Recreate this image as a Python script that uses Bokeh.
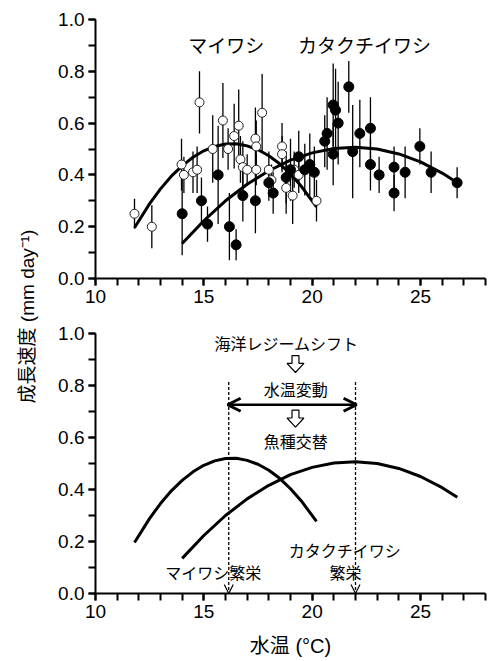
import math
from bokeh.plotting import figure
from bokeh.models import (Range1d, SingleIntervalTicker, PrintfTickFormatter,
                          Arrow, OpenHead, ColumnDataSource)
from bokeh.layouts import row, column
from bokeh.embed import file_html
from bokeh.resources import INLINE
from bokeh.core.properties import value

# ---------------- data ----------------
# マイワシ (open circles): water temperature, growth rate, error half-width
sardine_temp = [11.8, 12.6, 13.97, 14.08, 14.5, 14.69, 14.8, 15.41, 15.88, 16.12,
                16.4, 16.61, 16.69, 16.8, 17.0, 17.38, 17.42, 17.42, 17.69, 18.0,
                18.12, 18.61, 18.61, 18.8, 19.1, 19.17, 19.38, 20.2]
sardine_rate = [0.25, 0.20, 0.44, 0.40, 0.41, 0.42, 0.68, 0.50, 0.61, 0.50,
                0.55, 0.59, 0.46, 0.43, 0.42, 0.54, 0.51, 0.42, 0.64, 0.42,
                0.38, 0.51, 0.48, 0.35, 0.32, 0.42, 0.40, 0.30]
sardine_err = [0.058, 0.083, 0.10, 0.07, 0.08, 0.09, 0.12, 0.13, 0.145, 0.08,
               0.125, 0.14, 0.09, 0.10, 0.06, 0.12, 0.10, 0.06, 0.15, 0.07,
               0.06, 0.09, 0.07, 0.10, 0.11, 0.07, 0.07, 0.08]

# カタクチイワシ (filled circles)
anchovy_temp = [14.0, 14.89, 15.17, 15.66, 16.18, 16.49, 16.8, 17.38, 18.0, 18.2,
                18.8, 19.0, 19.38, 19.66, 19.89, 20.1, 20.58, 20.69, 20.97, 21.08,
                21.2, 20.97, 21.69, 21.87, 22.2, 22.69, 22.69, 23.09, 23.78, 23.78,
                24.29, 24.97, 25.49, 26.69]
anchovy_rate = [0.25, 0.30, 0.21, 0.40, 0.20, 0.13, 0.32, 0.30, 0.37, 0.33,
                0.39, 0.42, 0.47, 0.42, 0.44, 0.41, 0.53, 0.56, 0.67, 0.65,
                0.60, 0.48, 0.74, 0.49, 0.56, 0.58, 0.44, 0.40, 0.43, 0.33,
                0.41, 0.51, 0.41, 0.37]
anchovy_err = [0.16, 0.09, 0.068, 0.19, 0.13, 0.06, 0.10, 0.125, 0.07, 0.08,
               0.10, 0.12, 0.10, 0.10, 0.12, 0.10, 0.10, 0.14, 0.16, 0.16,
               0.16, 0.12, 0.10, 0.18, 0.13, 0.12, 0.10, 0.07, 0.08, 0.07,
               0.10, 0.07, 0.08, 0.06]

# fitted curves
sardine_fit_temp = [11.8, 12.5, 13.0, 13.5, 14.0, 14.5, 15.0, 15.5, 16.0, 16.5,
                    17.0, 17.5, 18.0, 18.5, 19.0, 19.5, 20.2]
sardine_fit_rate = [0.196, 0.289, 0.346, 0.395, 0.435, 0.468, 0.493, 0.510, 0.519, 0.520,
                    0.512, 0.497, 0.474, 0.443, 0.403, 0.356, 0.277]
anchovy_fit_temp = [14.0, 15.0, 16.0, 17.0, 18.0, 19.0, 20.0, 21.0, 22.0, 23.0,
                    24.0, 25.0, 26.0, 26.7]
anchovy_fit_rate = [0.135, 0.223, 0.300, 0.364, 0.416, 0.457, 0.485, 0.502, 0.507, 0.500,
                    0.481, 0.450, 0.407, 0.370]

# thresholds in the lower panel
sardine_peak_temp = 16.15
anchovy_peak_temp = 22.0

species_labels = ["マイワシ", "カタクチイワシ"]
y_label = "成長速度 (mm day⁻¹)"
x_label = "水温 (°C)"

# ---------------- styling helpers ----------------
JP_FONT = value("Noto Sans CJK JP")
MIX_FONT = "'Liberation Sans', 'Noto Sans CJK JP'"
LAB_W = 40
FRAME_W = 390
LEFT_B = 55
RIGHT_B = 5


def make_fig(border_top, frame_h, border_bottom):
    p = figure(width=LEFT_B + FRAME_W + RIGHT_B, height=border_top + frame_h + border_bottom,
               x_range=Range1d(10, 28), y_range=Range1d(0, 1.0),
               output_backend="svg", toolbar_location=None,
               min_border_left=LEFT_B, min_border_right=RIGHT_B,
               min_border_top=border_top, min_border_bottom=border_bottom)
    p.outline_line_color = None
    p.grid.visible = False
    p.xaxis.ticker = SingleIntervalTicker(interval=5, num_minor_ticks=5)
    p.yaxis.ticker = SingleIntervalTicker(interval=0.2, num_minor_ticks=2)
    p.yaxis.formatter = PrintfTickFormatter(format="%.1f")
    for ax in p.axis:
        ax.axis_line_width = 2
        ax.axis_line_color = "black"
        ax.major_tick_line_width = 2
        ax.minor_tick_line_width = 2
        ax.major_tick_line_color = "black"
        ax.minor_tick_line_color = "black"
        ax.major_tick_in = 0
        ax.major_tick_out = 7
        ax.minor_tick_in = 0
        ax.minor_tick_out = 7
        ax.major_label_text_font = "Liberation Sans"
        ax.major_label_text_font_size = "19px"
        ax.major_label_text_color = "black"
        ax.major_label_standoff = 4
    return p


TOP_BT, TOP_FH, TOP_BB = 19, 259, 40
BOT_BT, BOT_FH, BOT_BB = 15, 260, 66
TOTAL_H = TOP_BT + TOP_FH + TOP_BB + BOT_BT + BOT_FH + BOT_BB

# ---------------- top panel ----------------
top = make_fig(TOP_BT, TOP_FH, TOP_BB)

s_src = ColumnDataSource(dict(t=sardine_temp, r=sardine_rate,
                              lo=[r - e for r, e in zip(sardine_rate, sardine_err)],
                              hi=[r + e for r, e in zip(sardine_rate, sardine_err)]))
a_src = ColumnDataSource(dict(t=anchovy_temp, r=anchovy_rate,
                              lo=[r - e for r, e in zip(anchovy_rate, anchovy_err)],
                              hi=[r + e for r, e in zip(anchovy_rate, anchovy_err)]))

top.line(sardine_fit_temp, sardine_fit_rate, line_width=3, line_color="black")
top.line(anchovy_fit_temp, anchovy_fit_rate, line_width=3, line_color="black")
top.segment(x0="t", y0="lo", x1="t", y1="hi", source=s_src, line_width=1.3, line_color="black")
top.segment(x0="t", y0="lo", x1="t", y1="hi", source=a_src, line_width=1.3, line_color="black")
top.scatter(x="t", y="r", source=s_src, size=9, marker="circle",
            fill_color="white", line_color="#222222", line_width=1)
top.scatter(x="t", y="r", source=a_src, size=10, marker="circle",
            fill_color="black", line_color="black")

top.text(x=[16.04, 22.42], y=[0.902, 0.902], text=species_labels,
         text_font=JP_FONT, text_font_size="19px", text_color="black",
         text_align="center", text_baseline="middle")

# ---------------- bottom panel ----------------
bot = make_fig(BOT_BT, BOT_FH, BOT_BB)
bot.xaxis.axis_label = x_label
bot.xaxis.axis_label_text_font = MIX_FONT
bot.xaxis.axis_label_text_font_size = "20px"
bot.xaxis.axis_label_text_font_style = "normal"
bot.xaxis.axis_label_text_color = "black"
bot.xaxis.axis_label_standoff = 14

bot.line(sardine_fit_temp, sardine_fit_rate, line_width=3, line_color="black")
bot.line(anchovy_fit_temp, anchovy_fit_rate, line_width=3, line_color="black")

for tx in (sardine_peak_temp, anchovy_peak_temp):
    bot.add_layout(Arrow(x_start=tx, y_start=0.813, x_end=tx, y_end=0.0,
                         start=None, end=OpenHead(size=9, line_width=1.2),
                         line_dash="3 2", line_width=1.3, line_color="black"))

bot.add_layout(Arrow(x_start=sardine_peak_temp - 0.05, y_start=0.726,
                     x_end=anchovy_peak_temp + 0.05, y_end=0.726,
                     start=OpenHead(size=13, line_width=3),
                     end=OpenHead(size=13, line_width=3),
                     line_width=2.5, line_color="black"))

# hollow block arrows
bx = 19.23
tops_ = [0.915, 0.705]
shw, hhw, sl, hl = 0.16, 0.39, 0.03, 0.035
xs = [[bx - shw, bx + shw, bx + shw, bx + hhw, bx, bx - hhw, bx - shw] for _ in tops_]
ys = [[t, t, t - sl, t - sl, t - sl - hl, t - sl, t - sl] for t in tops_]
bot.patches(xs, ys, fill_color="white", line_color="black", line_width=1.2)

bot.text(x=[18.82, 19.24, 19.24, 15.43, 21.5, 21.54],
         y=[0.965, 0.785, 0.586, 0.082, 0.168, 0.082],
         text=["海洋レジームシフト", "水温変動", "魚種交替", "マイワシ繁栄", "カタクチイワシ", "繁栄"],
         text_font=JP_FONT, text_font_size="16px", text_color="black",
         text_align="center", text_baseline="middle")

# ---------------- shared y label ----------------
lab = figure(width=LAB_W, height=TOTAL_H, x_range=Range1d(0, LAB_W), y_range=Range1d(0, TOTAL_H),
             x_axis_location=None, y_axis_location=None, toolbar_location=None,
             output_backend="svg", min_border=0, min_border_left=0, min_border_right=0,
             min_border_top=0, min_border_bottom=0)
lab.outline_line_color = None
lab.grid.visible = False
lab.text(x=[27], y=[TOTAL_H - 316], text=[y_label], angle=math.pi / 2,
         text_font=value(MIX_FONT), text_font_size="19px", text_color="black",
         text_align="center", text_baseline="middle")

layout = row(lab, column(top, bot))
open("out.html", "w").write(file_html(layout, INLINE))
